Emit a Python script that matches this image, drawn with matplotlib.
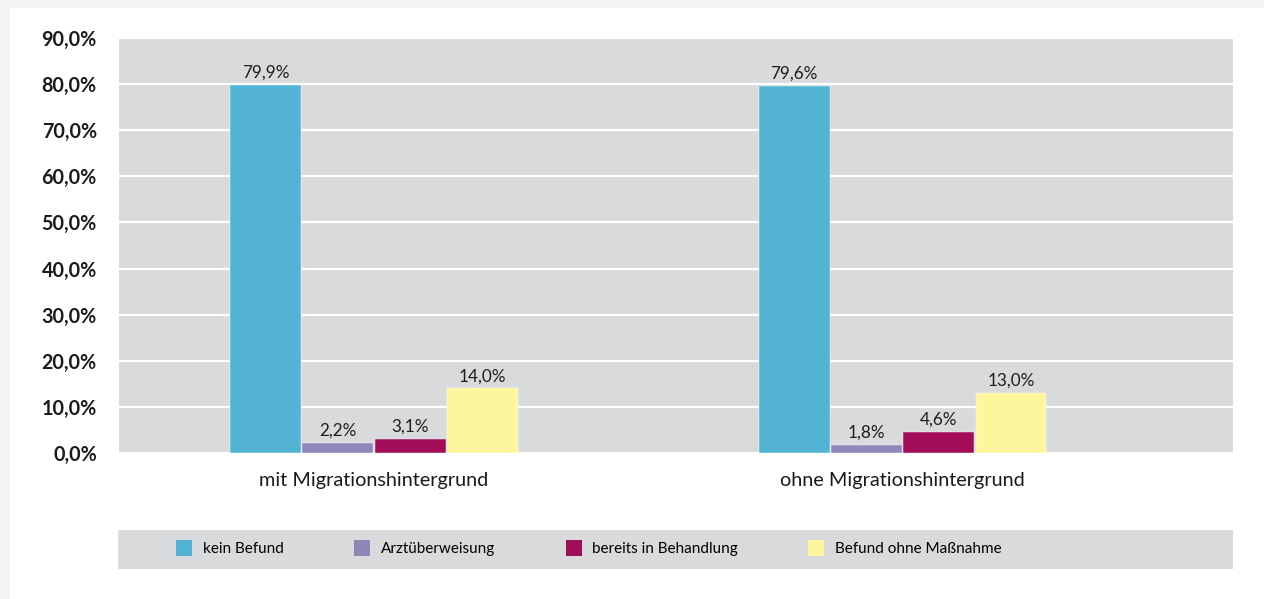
import matplotlib.pyplot as plt
import numpy as np
from matplotlib.patches import Rectangle
from matplotlib.lines import Line2D

plt.rcParams['font.family'] = ['Lato', 'DejaVu Sans']

groups = ["mit Migrationshintergrund", "ohne Migrationshintergrund"]
series = ["kein Befund", "Arztüberweisung", "bereits in Behandlung", "Befund ohne Maßnahme"]
values = [
    [79.9, 79.6],
    [2.2, 1.8],
    [3.1, 4.6],
    [14.0, 13.0],
]
colors = ["#52b3d4", "#9086ba", "#a20d58", "#fef69c"]
yticks = np.arange(0, 91, 10)

W, H = 1264, 599
fig = plt.figure(figsize=(W / 100, H / 100), dpi=100, facecolor="#f4f4f4")

# white card with a light frame around it
fig.patches.append(Rectangle((10 / W, 0), 1, 1 - 8 / H, transform=fig.transFigure,
                             facecolor="white", edgecolor="none", zorder=-5))

ax = fig.add_axes([119 / W, (H - 453) / H, 1114 / W, 415 / H])
ax.set_facecolor("#d9dadc")
for s in ax.spines.values():
    s.set_visible(False)

x = np.arange(len(groups))
step = 0.1367
for i, (name, vals, c) in enumerate(zip(series, values, colors)):
    bars = ax.bar(x + (i - 1.5) * step, vals, width=0.134, color=c, label=name,
                  edgecolor="white", linewidth=0.3, zorder=3)
    ax.bar_label(bars, labels=[f"{v:.1f}%".replace(".", ",") for v in vals],
                 padding=3, fontsize=12.3, color="#1e1e1e")

ax.set_xlim(-0.4825, 1.625)
ax.set_ylim(0, 90)
ax.set_yticks(yticks)
ax.set_yticklabels([f"{v:.1f}%".replace(".", ",") for v in yticks],
                   fontsize=14.2, fontweight="bold", color="#1a1a1a")
ax.set_xticks(x)
ax.set_xticklabels(groups, fontsize=14.3, color="#1a1a1a")
ax.tick_params(axis="y", length=0, pad=16)
ax.tick_params(axis="x", length=0, pad=14)
ax.yaxis.grid(True, color="white", linewidth=1.6)
ax.set_axisbelow(True)

# legend strip
lax = fig.add_axes([118 / W, (H - 569) / H, 1115 / W, 39 / H])
lax.set_facecolor("#d9dadc")
lax.set_xticks([])
lax.set_yticks([])
for s in lax.spines.values():
    s.set_visible(False)

handles = [Line2D([], [], linestyle="none", marker="s", markersize=12.2,
                  markeredgewidth=0, color=c) for c in colors]
fig.legend(handles, series, loc="center left", bbox_to_anchor=(176 / W, 1 - 549 / H),
           ncol=4, frameon=False, fontsize=11, handlelength=1.1,
           handletextpad=0.65, columnspacing=4.6, borderpad=0, borderaxespad=0)

fig.savefig("out.png", dpi=100, facecolor=fig.get_facecolor())
